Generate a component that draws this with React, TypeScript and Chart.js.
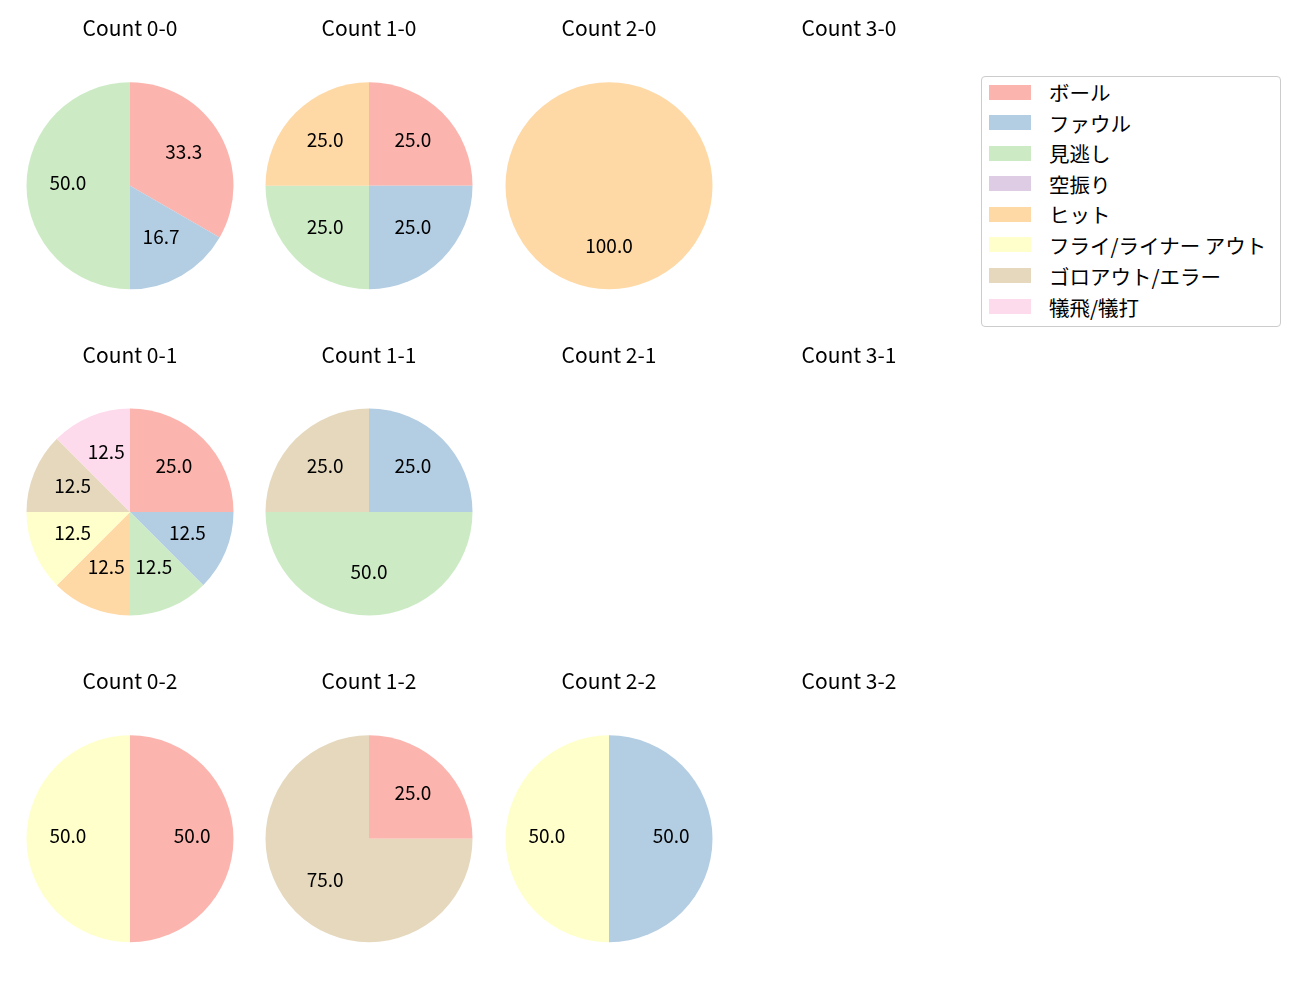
import React, { useEffect, useRef } from "react";
import { Chart, registerables } from "chart.js";

Chart.register(...registerables);

const categories = ["ボール", "ファウル", "見逃し", "空振り", "ヒット", "フライ/ライナー アウト", "ゴロアウト/エラー", "犠飛/犠打"];
const colors = ["#fbb4ae", "#b3cde3", "#ccebc5", "#decbe4", "#fed9a6", "#ffffcc", "#e5d8bd", "#fddaec"];

const countTitles = [
  ["Count 0-0", "Count 1-0", "Count 2-0", "Count 3-0"],
  ["Count 0-1", "Count 1-1", "Count 2-1", "Count 3-1"],
  ["Count 0-2", "Count 1-2", "Count 2-2", "Count 3-2"],
];

const count00 = [2, 1, 3, 0, 0, 0, 0, 0];
const count10 = [1, 1, 1, 0, 1, 0, 0, 0];
const count20 = [0, 0, 0, 0, 1, 0, 0, 0];
const count30: number[] = [];
const count01 = [2, 1, 1, 0, 1, 1, 1, 1];
const count11 = [0, 1, 2, 0, 0, 0, 1, 0];
const count21: number[] = [];
const count31: number[] = [];
const count02 = [1, 0, 0, 0, 0, 1, 0, 0];
const count12 = [1, 0, 0, 0, 0, 0, 3, 0];
const count22 = [0, 1, 0, 0, 0, 1, 0, 0];
const count32: number[] = [];

const countValues = [
  [count00, count10, count20, count30],
  [count01, count11, count21, count31],
  [count02, count12, count22, count32],
];

const FONT = "'Noto Sans CJK JP', 'Noto Sans', sans-serif";
const colX = [130, 369, 609, 849];
const rowTitleY = [28, 354.5, 681];
const rowPieY = [185.5, 512, 838.5];
const R = 103.5;
const TITLE_SIZE = 21;
const LABEL_SIZE = 19;
const LABEL_DY = -2.5;
const CANVAS_W = 230;

const pctLabels = {
  id: "pctLabels",
  afterDatasetsDraw(chart: any) {
    const ctx = chart.ctx;
    const ds = chart.data.datasets[0];
    if (!ds) return;
    const vals: number[] = ds.data as number[];
    const total = vals.reduce((a, b) => a + b, 0);
    if (!total) return;
    const meta = chart.getDatasetMeta(0);
    ctx.save();
    ctx.font = `${LABEL_SIZE}px ${FONT}`;
    ctx.fillStyle = "#000";
    ctx.textAlign = "center";
    ctx.textBaseline = "middle";
    meta.data.forEach((arc: any, i: number) => {
      const v = vals[i];
      if (!v) return;
      const p = arc.getProps(["x", "y", "startAngle", "endAngle", "outerRadius"], true);
      const mid = (p.startAngle + p.endAngle) / 2;
      const r = p.outerRadius * 0.6;
      ctx.fillText(((v / total) * 100).toFixed(1), p.x + Math.cos(mid) * r, p.y + Math.sin(mid) * r + LABEL_DY);
    });
    ctx.restore();
  },
};

function PieCell({ title, values, cx, ty, py }: { title: string; values: number[]; cx: number; ty: number; py: number }) {
  const ref = useRef<HTMLCanvasElement>(null);
  const lineH = TITLE_SIZE * 1.2;
  const top = Math.round(ty - lineH / 2);
  const areaTop = py - R - 0.5;
  const padBottom = areaTop - top - lineH;
  const height = Math.round(py + R + 0.5 - top);
  useEffect(() => {
    const chart = new Chart(ref.current!, {
      type: "pie",
      data: {
        labels: categories,
        datasets: [
          {
            data: values,
            backgroundColor: colors,
            borderWidth: 0,
            hoverOffset: 0,
            radius: R,
          } as any,
        ],
      },
      options: {
        animation: false,
        responsive: false,
        maintainAspectRatio: false,
        events: [],
        layout: { padding: 0 },
        plugins: {
          legend: { display: false },
          tooltip: { enabled: false },
          title: {
            display: true,
            text: title,
            color: "#000",
            font: { family: FONT, size: TITLE_SIZE, weight: "normal", lineHeight: 1.2 },
            padding: { top: 0, bottom: padBottom },
          },
        },
      },
      plugins: [pctLabels],
    });
    return () => chart.destroy();
  }, []);
  return (
    <canvas
      ref={ref}
      width={CANVAS_W}
      height={height}
      style={{ position: "absolute", left: cx - CANVAS_W / 2, top, width: CANVAS_W, height }}
    />
  );
}

const legendRowY = [92, 122.5, 153, 183.5, 214, 244.5, 275.5, 306.5];

export default function App() {
  const cells: React.ReactNode[] = [];
  countTitles.forEach((row, r) =>
    row.forEach((t, c) => {
      cells.push(
        <PieCell key={t} title={t} values={countValues[r][c]} cx={colX[c]} ty={rowTitleY[r]} py={rowPieY[r]} />
      );
    })
  );
  return (
    <div style={{ position: "absolute", left: 0, top: 0, width: 1300, height: 1000, background: "#fff", fontFamily: FONT }}>
      {cells}
      <div
        style={{
          position: "absolute",
          left: 981,
          top: 76,
          width: 300,
          height: 251,
          boxSizing: "border-box",
          border: "1px solid #cccccc",
          borderRadius: 4,
          background: "#fff",
        }}
      >
        {categories.map((c, i) => (
          <React.Fragment key={c}>
            <div
              style={{
                position: "absolute",
                left: 7,
                top: legendRowY[i] - 76 - 1 - 7.5,
                width: 42,
                height: 15,
                background: colors[i],
              }}
            />
            <div
              style={{
                position: "absolute",
                left: 67,
                top: legendRowY[i] - 76 - 1 - 15,
                height: 30,
                lineHeight: "30px",
                fontSize: 20.5,
                color: "#000",
                whiteSpace: "nowrap",
              }}
            >
              {c}
            </div>
          </React.Fragment>
        ))}
      </div>
    </div>
  );
}
